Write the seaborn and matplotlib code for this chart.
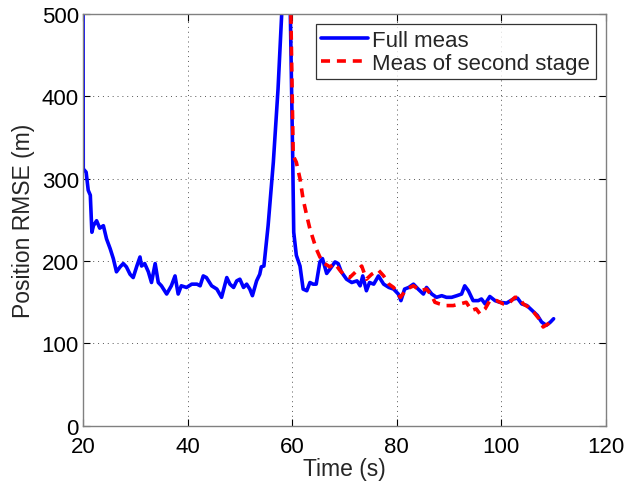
import numpy as np
import pandas as pd
import matplotlib
matplotlib.use("Agg")
import matplotlib.pyplot as plt
import seaborn as sns

# Full meas (blue)
full_t = [20.0, 20.05, 20.6, 21.0, 21.4, 21.7, 22.0, 22.6, 23.2, 23.9, 24.5, 25.2, 25.8, 26.4,
          27.1, 27.7, 28.3, 29.0, 29.6, 30.3, 30.9, 31.2, 31.8, 32.5, 33.1, 33.8, 34.4, 35.0,
          36.0, 36.9, 37.6, 38.2, 38.8, 39.8, 40.8, 41.8, 42.4, 43.0, 43.6, 44.6, 45.6, 46.5,
          47.5, 48.1, 48.8, 49.4, 50.0, 50.7, 51.3, 51.9, 52.4, 53.2, 53.8, 54.1, 54.6, 55.4,
          56.4, 57.3, 58.0, 59.0, 59.6, 60.1, 60.3, 60.8, 61.5, 62.1, 62.8, 63.4, 64.0, 64.6,
          65.3, 65.8, 66.6, 67.2, 68.2, 68.8, 69.4, 70.4, 71.4, 72.4, 73.0, 73.5, 74.2, 74.8,
          75.6, 76.5, 77.5, 78.5, 79.4, 80.3, 80.8, 81.5, 82.3, 83.2, 84.1, 85.1, 85.7, 86.7,
          87.6, 88.6, 89.5, 90.5, 91.5, 92.4, 93.0, 93.7, 94.6, 95.6, 96.2, 96.9, 97.8, 98.8,
          99.7, 101.0, 102.3, 103.1, 103.9, 104.9, 105.9, 106.9, 107.7, 108.6, 109.4, 110.0]
full_v = [620, 312, 308, 286, 280, 235, 243, 249, 240, 243, 227, 215, 203, 187,
          193, 197, 193, 184, 180, 194, 205, 194, 197, 187, 174, 197, 174, 170,
          160, 170, 182, 160, 170, 168, 172, 172, 170, 182, 180, 170, 166, 156,
          180, 172, 168, 176, 178, 168, 172, 166, 158, 176, 184, 193, 194, 243,
          320, 409, 500, 650, 520, 328, 235, 207, 194, 166, 164, 174, 172, 172,
          199, 203, 185, 190, 199, 197, 187, 178, 174, 176, 170, 182, 164, 174,
          172, 182, 172, 168, 166, 160, 152, 166, 168, 172, 166, 160, 168, 160,
          156, 158, 156, 156, 158, 160, 170, 164, 152, 152, 154, 148, 157, 152,
          150, 149, 154, 155, 148, 146, 140, 134, 126, 122, 126, 130]

# Meas of second stage (red dashed)
second_t = [59.7, 60.2, 60.8, 61.5, 62.1, 62.8, 63.4, 64.0, 64.6, 65.3, 66.2, 67.2, 68.2,
            69.1, 70.1, 71.0, 72.0, 73.3, 74.2, 75.2, 76.5, 77.5, 78.5, 79.4, 80.7, 81.9,
            83.2, 84.5, 85.7, 86.7, 87.3, 88.2, 89.5, 90.8, 92.1, 93.3, 94.3, 95.2, 95.9,
            96.9, 97.8, 99.1, 100.4, 101.3, 102.6, 103.3, 104.2, 105.2, 106.2, 107.2, 108.0,
            109.0, 109.6]
second_v = [520, 328, 320, 300, 275, 255, 239, 227, 215, 205, 197, 193, 197,
            189, 182, 180, 186, 194, 178, 184, 189, 182, 172, 168, 156, 166,
            170, 164, 166, 158, 150, 148, 146, 146, 148, 150, 140, 142, 136,
            142, 152, 152, 148, 148, 156, 156, 148, 144, 138, 130, 120,
            124, 128]

x_ticks = [20, 40, 60, 80, 100, 120]
y_ticks = [0, 100, 200, 300, 400, 500]

sns.set_theme(style="white")
plt.rcParams['font.family'] = ['Liberation Sans', 'DejaVu Sans']

fig = plt.figure(figsize=(6.24, 4.85), dpi=100)
ax = fig.add_axes([0.133, 0.12, 0.838, 0.849])

df_full = pd.DataFrame({"t": full_t, "v": full_v})
df_second = pd.DataFrame({"t": second_t, "v": second_v})

sns.lineplot(data=df_full, x="t", y="v", ax=ax, color="#0000ff", lw=2.6,
             sort=False, estimator=None, label="Full meas")
sns.lineplot(data=df_second, x="t", y="v", ax=ax, color="#ff0000", lw=2.6,
             sort=False, estimator=None, label="Meas of second stage",
             dashes=False, linestyle=(0, (2.5, 1.9)))

ax.set_xlim(20, 120)
ax.set_ylim(0, 500)
ax.set_xticks(x_ticks)
ax.set_yticks(y_ticks)
ax.tick_params(direction="in", length=5, width=0.8, labelsize=16, colors="black",
               top=True, right=True, bottom=True, left=True)
ax.tick_params(axis="x", pad=7)
ax.tick_params(axis="y", pad=3)
ax.grid(True, linestyle=(0, (1, 4)), color="#555555", linewidth=0.7)
for s in ax.spines.values():
    s.set_color("#808080")
    s.set_linewidth(1.0)
ax.set_xlabel("Time (s)", fontsize=16.5, labelpad=0)
ax.set_ylabel("Position RMSE (m)", fontsize=16.5, labelpad=5)

leg = ax.legend(loc="upper right", fontsize=16, frameon=True, fancybox=False,
                edgecolor="black", handlelength=2.1, handletextpad=0.2,
                borderpad=0.25, labelspacing=0.1, borderaxespad=0.45)
leg.get_frame().set_linewidth(0.9)

fig.savefig("out.png", dpi=100)
